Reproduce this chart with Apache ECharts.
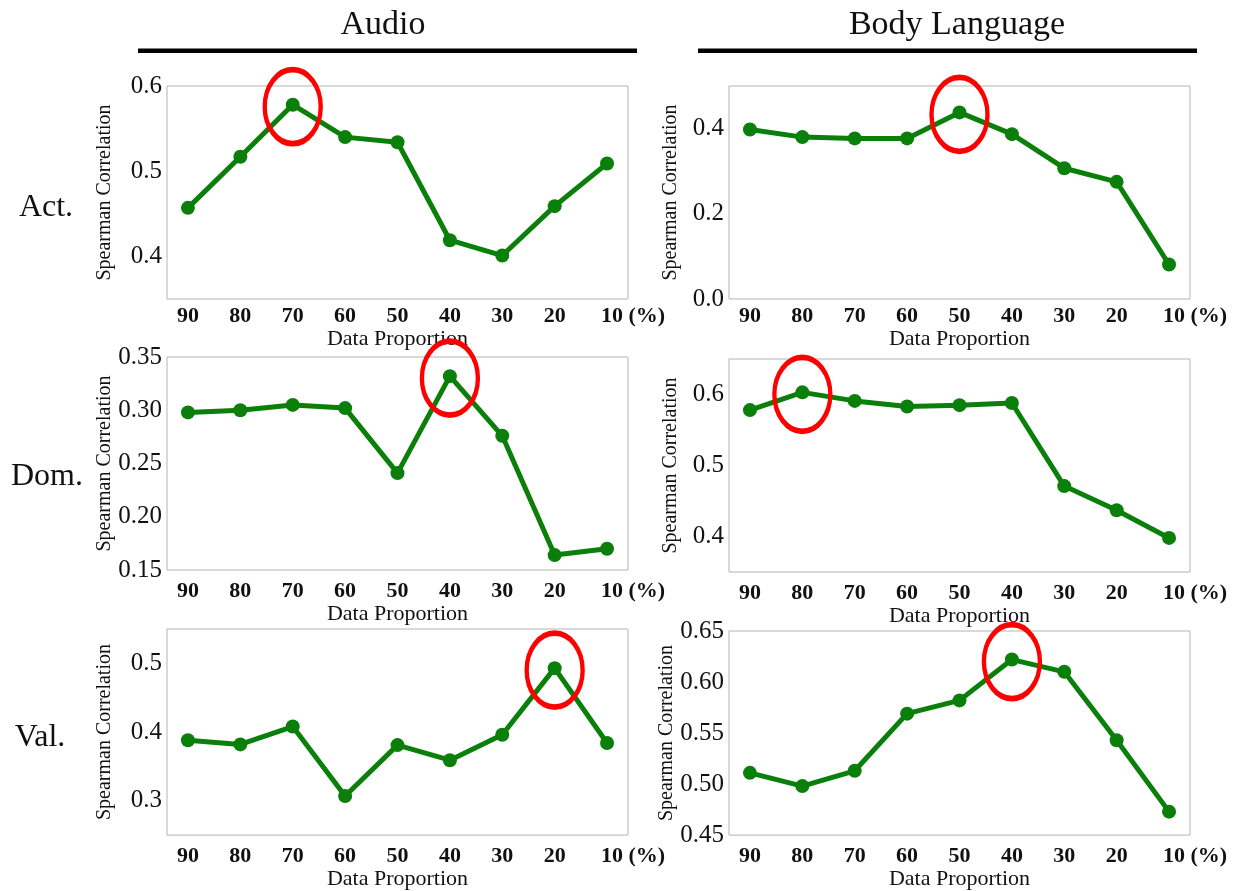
<!DOCTYPE html>
<html>
<head>
<meta charset="utf-8">
<script src="https://cdn.jsdelivr.net/npm/echarts@6/dist/echarts.min.js"></script>
<style>
  html, body { margin: 0; padding: 0; background: #fff; }
  #chart { width: 1241px; height: 891px; }
</style>
</head>
<body>
<div id="chart"></div>
<script>
// Data proportion used for training (x axis, left to right)
const categories = ['90', '80', '70', '60', '50', '40', '30', '20', '10'];

// Spearman correlation per modality / dimension
const audioAct = [0.457, 0.517, 0.578, 0.540, 0.534, 0.419, 0.401, 0.459, 0.509];
const bodyAct  = [0.398, 0.380, 0.377, 0.377, 0.438, 0.387, 0.307, 0.275, 0.081];
const audioDom = [0.298, 0.300, 0.305, 0.302, 0.241, 0.332, 0.276, 0.164, 0.170];
const bodyDom  = [0.578, 0.603, 0.591, 0.583, 0.585, 0.588, 0.471, 0.437, 0.398];
const audioVal = [0.388, 0.382, 0.408, 0.307, 0.381, 0.359, 0.396, 0.493, 0.384];
const bodyVal  = [0.511, 0.498, 0.513, 0.569, 0.582, 0.622, 0.610, 0.543, 0.473];

// y tick labels per panel
const ticksAudioAct = [0.4, 0.5, 0.6];
const ticksBodyAct  = [0.0, 0.2, 0.4];
const ticksAudioDom = [0.15, 0.20, 0.25, 0.30, 0.35];
const ticksBodyDom  = [0.4, 0.5, 0.6];
const ticksAudioVal = [0.3, 0.4, 0.5];
const ticksBodyVal  = [0.45, 0.50, 0.55, 0.60, 0.65];

const columnTitles = ['Audio', 'Body Language'];
const rowTitles = ['Act.', 'Dom.', 'Val.'];

const SERIF = '"Liberation Serif", "Times New Roman", serif';
const GREEN = '#0a7f0a';
const RED = '#ff0000';

// panel definitions: data, y range, tick labels, decimals
const panels = [
  { data: audioAct, min: 0.35, max: 0.60, ticks: ticksAudioAct, dec: 1, col: 0, row: 0 },
  { data: bodyAct,  min: 0.00, max: 0.50, ticks: ticksBodyAct,  dec: 1, col: 1, row: 0 },
  { data: audioDom, min: 0.15, max: 0.35, ticks: ticksAudioDom, dec: 2, col: 0, row: 1 },
  { data: bodyDom,  min: 0.35, max: 0.65, ticks: ticksBodyDom,  dec: 1, col: 1, row: 1 },
  { data: audioVal, min: 0.25, max: 0.55, ticks: ticksAudioVal, dec: 1, col: 0, row: 2 },
  { data: bodyVal,  min: 0.45, max: 0.65, ticks: ticksBodyVal,  dec: 2, col: 1, row: 2 }
];

// layout of the 3x2 grid of panels
const colLeft = [167, 729];
const colWidth = 461;
const rowTop = [[86, 357, 629], [86, 359, 631]];
const panelHeight = 213;
const labelMargin = [6, 10, 10];
const nameGaps = [25, 26, 26];

const grids = [], xAxes = [], yAxes = [], series = [];

panels.forEach((p, i) => {
  grids.push({
    left: colLeft[p.col],
    top: rowTop[p.col][p.row],
    width: colWidth,
    height: panelHeight,
    show: true,
    borderColor: '#b4b4b4',
    borderWidth: 1,
    backgroundColor: 'transparent'
  });

  xAxes.push({
    type: 'value',
    gridIndex: i,
    min: -0.4,
    max: categories.length - 1 + 0.4,
    axisLine: { show: false },
    axisTick: { show: false },
    splitLine: { show: false },
    axisLabel: {
      customValues: categories.map((c, k) => k),
      margin: labelMargin[p.row],
      fontFamily: SERIF,
      fontSize: 22,
      fontWeight: 'bold',
      color: '#111',
      formatter: function (v) {
        const k = Math.round(v);
        if (k === categories.length - 1) {
          return '{pad| }{b|' + categories[k] + '}{u| (%)}';
        }
        return categories[k];
      },
      rich: {
        pad: { width: 52, fontSize: 22, fontFamily: SERIF },
        b: { fontSize: 22, fontWeight: 'bold', fontFamily: SERIF, color: '#111' },
        u: { fontSize: 22, fontWeight: 'bold', fontFamily: SERIF, color: '#111' }
      }
    },
    name: 'Data Proportion',
    nameLocation: 'middle',
    nameGap: nameGaps[p.row],
    nameTextStyle: { fontFamily: SERIF, fontSize: 22, color: '#111' }
  });

  yAxes.push({
    type: 'value',
    gridIndex: i,
    min: p.min,
    max: p.max,
    axisLine: { show: false },
    axisTick: { show: false },
    splitLine: { show: false },
    axisLabel: {
      customValues: p.ticks,
      margin: 5,
      fontFamily: SERIF,
      fontSize: 25,
      color: '#111',
      formatter: v => v.toFixed(p.dec)
    },
    name: 'Spearman Correlation',
    nameLocation: 'middle',
    nameGap: p.col === 0 ? 52 : 48,
    nameTextStyle: { fontFamily: SERIF, fontSize: 20, color: '#111' }
  });

  const pts = p.data.map((v, k) => [k, v]);
  series.push({
    type: 'line',
    xAxisIndex: i,
    yAxisIndex: i,
    data: pts,
    symbol: 'circle',
    symbolSize: 14,
    showAllSymbol: true,
    lineStyle: { color: GREEN, width: 5 },
    itemStyle: { color: GREEN },
    emphasis: { disabled: true },
    animation: false,
    z: 2
  });

  // highlight the best-performing proportion with an ellipse
  let best = 0;
  p.data.forEach((v, k) => { if (v > p.data[best]) best = k; });
  series.push({
    type: 'scatter',
    xAxisIndex: i,
    yAxisIndex: i,
    data: [[best, p.data[best]]],
    symbol: 'circle',
    symbolSize: [56, 74],
    symbolOffset: [0, 2],
    clip: false,
    silent: true,
    itemStyle: { color: 'rgba(0,0,0,0)', borderColor: RED, borderWidth: 5, opacity: 1 },
    emphasis: { disabled: true },
    animation: false,
    z: 5
  });
});

// column headings with underline rules, and row labels
const titleStyle = size => ({ font: size + 'px ' + SERIF, fill: '#111', align: 'center', verticalAlign: 'middle' });
const graphics = [
  { type: 'text', x: 383, y: 25, style: Object.assign({ text: columnTitles[0] }, titleStyle(34)) },
  { type: 'text', x: 957, y: 25, style: Object.assign({ text: columnTitles[1] }, titleStyle(34)) },
  { type: 'rect', shape: { x: 138, y: 48.5, width: 499, height: 4.5 }, style: { fill: '#000' } },
  { type: 'rect', shape: { x: 698, y: 48.5, width: 499, height: 4.5 }, style: { fill: '#000' } },
  { type: 'text', x: 46, y: 208, style: Object.assign({ text: rowTitles[0] }, titleStyle(32)) },
  { type: 'text', x: 47, y: 477, style: Object.assign({ text: rowTitles[1] }, titleStyle(32)) },
  { type: 'text', x: 40, y: 738, style: Object.assign({ text: rowTitles[2] }, titleStyle(32)) }
];

const chart = echarts.init(document.getElementById('chart'), null, { renderer: 'canvas' });
chart.setOption({
  backgroundColor: '#fff',
  animation: false,
  grid: grids,
  xAxis: xAxes,
  yAxis: yAxes,
  series: series,
  graphic: graphics
});
</script>
</body>
</html>
